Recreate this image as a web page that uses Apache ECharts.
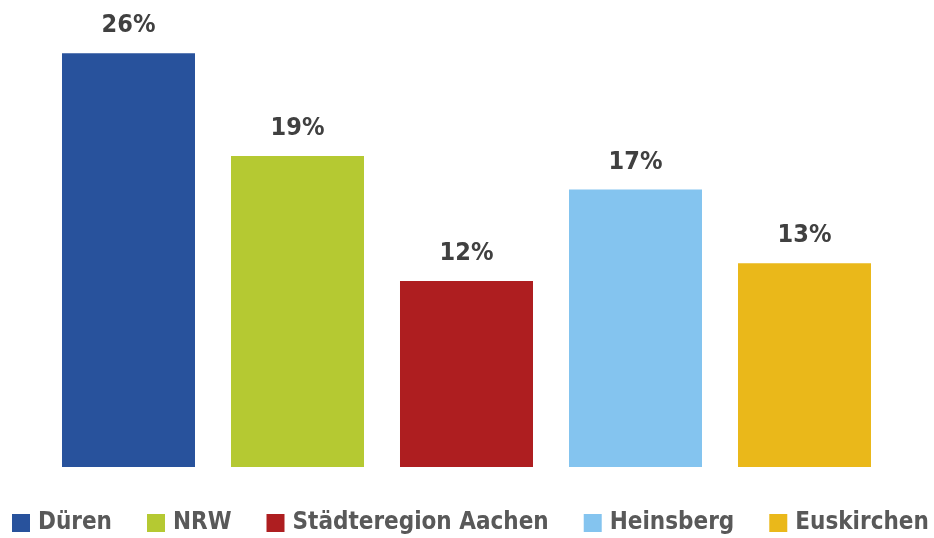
<!DOCTYPE html>
<html>
<head>
<meta charset="utf-8">
<script src="https://cdn.jsdelivr.net/npm/echarts@6/dist/echarts.min.js"></script>
<style>
  html, body { margin: 0; padding: 0; background: #fff; }
  #chart { width: 934px; height: 538px; }
</style>
</head>
<body>
<div id="chart"></div>
<script>
// Daten
const categories = ['Düren', 'NRW', 'Städteregion Aachen', 'Heinsberg', 'Euskirchen'];
const values = [25.8, 19.4, 11.6, 17.3, 12.7];
const colors = ['#28529c', '#b5c932', '#ae1e20', '#84c4ef', '#eab81a'];

const fontFamily = '"DejaVu Sans Condensed", sans-serif';

const chart = echarts.init(document.getElementById('chart'));

// jede Kategorie als eigene Serie, damit die Legende alle Namen zeigt
const series = categories.map((name, i) => ({
  name: name,
  type: 'bar',
  stack: 'all',
  barCategoryGap: '21.3%',
  data: values.map((v, j) => (j === i ? v : null)),
  itemStyle: { color: colors[i] },
  label: {
    show: true,
    position: 'top',
    distance: 15,
    formatter: p => Math.round(p.value) + '%',
    color: '#404040',
    fontFamily: fontFamily,
    fontWeight: 'bold',
    fontSize: 25
  }
}));

chart.setOption({
  animation: false,
  grid: { left: 44, right: 45, top: 18, bottom: 71 },
  legend: {
    top: 511,
    left: 12,
    padding: 0,
    width: 934,
    icon: 'rect',
    itemWidth: 18,
    itemHeight: 18,
    itemGap: 35,
    textStyle: {
      color: '#595959',
      fontFamily: fontFamily,
      fontWeight: 'bold',
      fontSize: 24,
      padding: [0, 0, 0, 3]
    },
    data: categories
  },
  xAxis: {
    type: 'category',
    data: categories,
    axisLine: { show: false },
    axisTick: { show: false },
    axisLabel: { show: false }
  },
  yAxis: {
    type: 'value',
    min: 0,
    max: 28,
    show: false,
    splitLine: { show: false }
  },
  series: series
});
</script>
</body>
</html>
